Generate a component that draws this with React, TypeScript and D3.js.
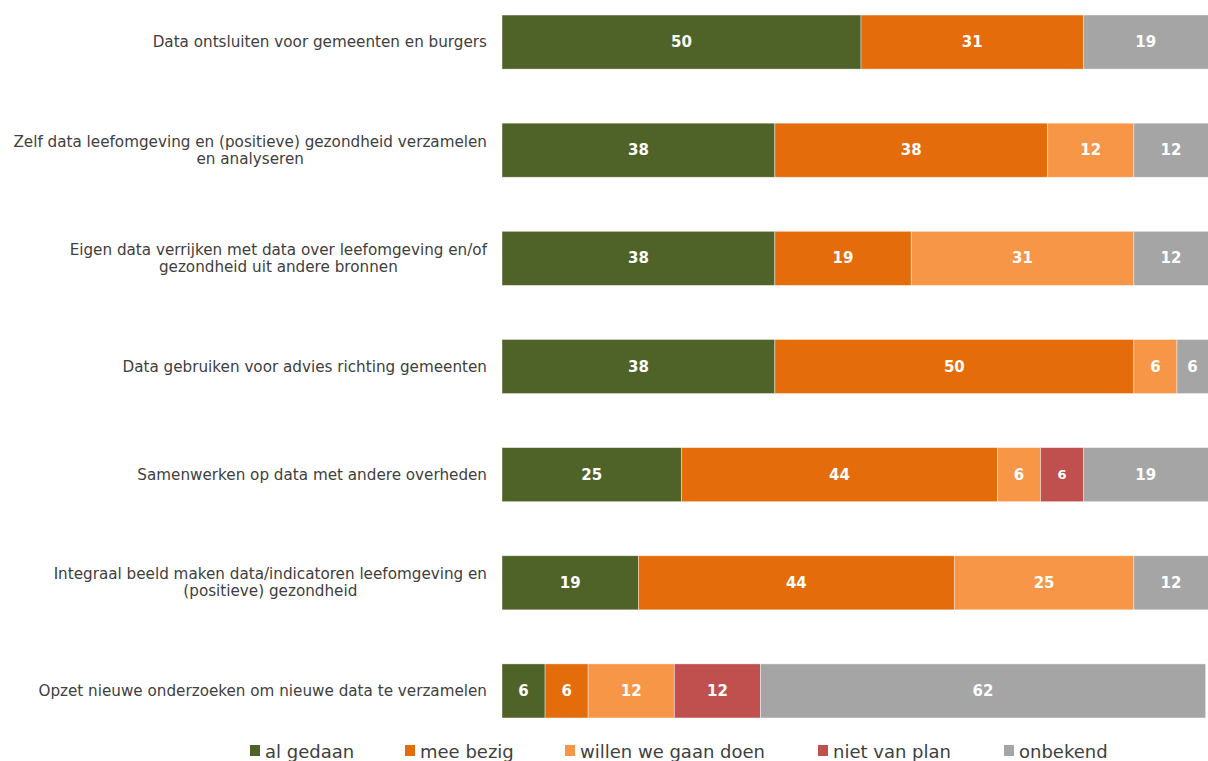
import React from "react";
import * as d3 from "d3";

const categories: string[][] = [
  ["Data ontsluiten voor gemeenten en burgers"],
  ["Zelf data leefomgeving en (positieve) gezondheid verzamelen", "en analyseren"],
  ["Eigen data verrijken met data over leefomgeving en/of", "gezondheid uit andere bronnen"],
  ["Data gebruiken voor advies richting gemeenten"],
  ["Samenwerken op data met andere overheden"],
  ["Integraal beeld maken data/indicatoren leefomgeving en", "(positieve) gezondheid"],
  ["Opzet nieuwe onderzoeken om nieuwe data te verzamelen"],
];

const seriesNames = ["al gedaan", "mee bezig", "willen we gaan doen", "niet van plan", "onbekend"];
const colors = ["#4F6228", "#E46C0A", "#F79646", "#C0504D", "#A5A5A5"];

const alGedaan = [50, 38, 38, 38, 25, 19, 6];
const meeBezig = [31, 38, 19, 50, 44, 44, 6];
const willenWe = [0, 12, 31, 6, 6, 25, 12];
const nietVanPlan = [0, 0, 0, 0, 6, 0, 12];
const onbekend = [19, 12, 12, 6, 19, 12, 62];

const seriesValues = [alGedaan, meeBezig, willenWe, nietVanPlan, onbekend];

const W = 1208;
const H = 761;
const font = "Verdana, 'DejaVu Sans', sans-serif";
const labelSize = 15.2;

let ctx: CanvasRenderingContext2D | null = null;
function measure(t: string): number {
  if (!ctx && typeof document !== "undefined") {
    ctx = document.createElement("canvas").getContext("2d");
  }
  if (!ctx) return t.length * 8;
  ctx.font = `${labelSize}px ${font}`;
  return ctx.measureText(t).width;
}

export default function App() {
  const x = d3.scaleLinear().domain([0, 100]).range([502, 1220]);
  const y = d3
    .scaleBand<number>()
    .domain(d3.range(categories.length))
    .range([-12, 745])
    .paddingInner(0.5)
    .paddingOuter(0.25);

  const legendX = [250, 405, 565, 818, 1004];
  const labelRight = 487;

  return (
    <svg
      width={W}
      height={H}
      style={{ position: "absolute", left: 0, top: 0, background: "#fff" }}
    >
      {categories.map((lines, i) => {
        const cy = (y(i) as number) + y.bandwidth() / 2;
        const lh = 17;
        const y0 = cy - ((lines.length - 1) * lh) / 2;
        const maxW = Math.max(...lines.map(measure));
        const cx = labelRight - maxW / 2;
        return (
          <text
            key={"c" + i}
            fontFamily={font}
            fontSize={labelSize}
            fill="#404040"
            dominantBaseline="central"
          >
            {lines.map((l, j) => (
              <tspan key={j} x={cx} y={y0 + j * lh} textAnchor="middle">
                {l}
              </tspan>
            ))}
          </text>
        );
      })}
      {categories.map((_, i) => {
        let acc = 0;
        const yy = y(i) as number;
        return (
          <g key={"r" + i}>
            {seriesValues.map((vals, s) => {
              const v = vals[i];
              const x0 = x(acc);
              acc += v;
              const x1 = x(acc);
              if (v === 0) return null;
              return (
                <g key={s}>
                  <rect
                    x={x0}
                    y={yy}
                    width={x1 - x0}
                    height={y.bandwidth()}
                    fill={colors[s]}
                    stroke="#ffffff"
                    strokeOpacity={0.5}
                    strokeWidth={0.8}
                  />
                  <text
                    x={(x0 + Math.min(x1, W)) / 2}
                    y={yy + y.bandwidth() / 2}
                    textAnchor="middle"
                    dominantBaseline="central"
                    fontFamily={font}
                    fontWeight="bold"
                    fontSize={v < 10 && s === 3 ? 13 : 15}
                    fill="#ffffff"
                  >
                    {v}
                  </text>
                </g>
              );
            })}
          </g>
        );
      })}
      {seriesNames.map((n, s) => (
        <g key={"l" + s}>
          <rect x={legendX[s]} y={745} width={10} height={11} fill={colors[s]} />
          <text
            x={legendX[s] + 15}
            y={751}
            dominantBaseline="central"
            fontFamily={font}
            fontSize={18}
            fill="#404040"
          >
            {n}
          </text>
        </g>
      ))}
    </svg>
  );
}
